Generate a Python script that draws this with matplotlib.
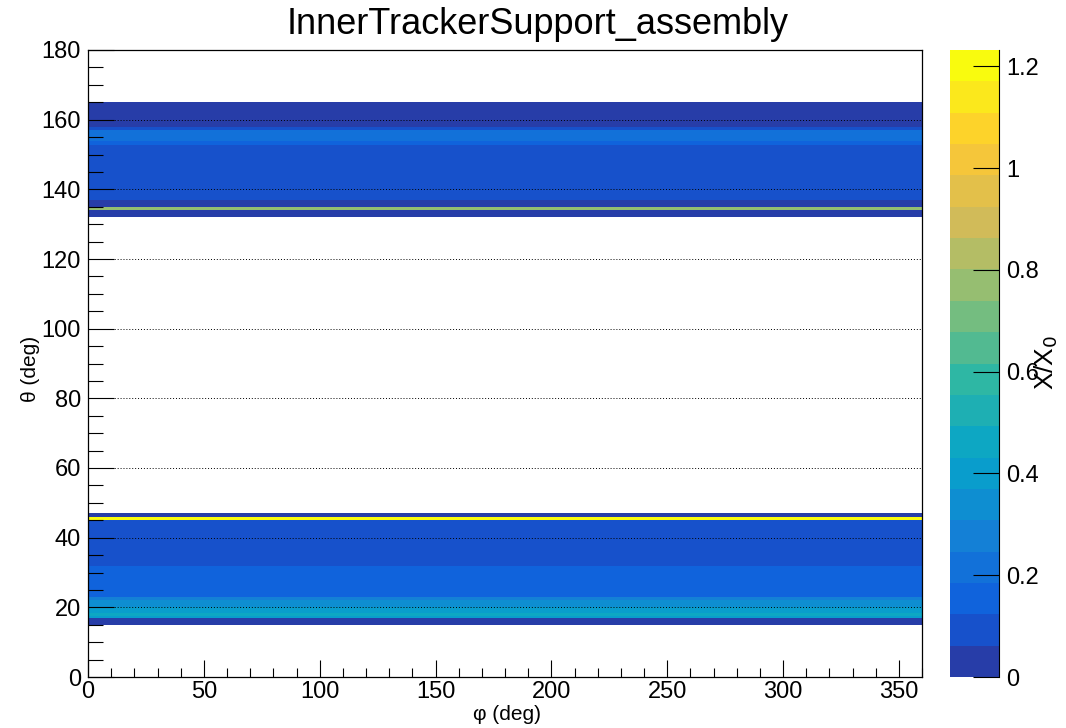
import numpy as np
import matplotlib
matplotlib.use("Agg")
import matplotlib.pyplot as plt
from matplotlib.colors import ListedColormap, BoundaryNorm, LinearSegmentedColormap
from matplotlib.ticker import MultipleLocator

plt.rcParams['font.family'] = ['Liberation Sans', 'DejaVu Sans']

# ---- data ----
title = "InnerTrackerSupport_assembly"
phi_edges = [0.0, 360.0]
# theta bin edges (deg) and X/X0 value in each theta segment (NaN = empty)
theta_edges = [15.0, 17.0, 17.5, 18.5, 20.0, 22.0, 23.0, 32.0, 45.0, 46.0, 47.0,
               132.0, 134.0, 135.0, 137.0, 152.7, 154.0, 157.0, 158.0, 165.0]
xx0_values = [0.03, 0.42, 0.46, 0.40, 0.34, 0.28, 0.15, 0.09, 1.232, 0.03,
              np.nan,
              0.03, 0.77, 0.03, 0.09, 0.15, 0.21, 0.09, 0.03]
z_max = 1.232
n_contours = 20
x_ticks = [0, 50, 100, 150, 200, 250, 300, 350]
y_ticks = [0, 20, 40, 60, 80, 100, 120, 140, 160, 180]
z_ticks = [0, 0.2, 0.4, 0.6, 0.8, 1.0, 1.2]
z_tick_labels = ["0", "0.2", "0.4", "0.6", "0.8", "1", "1.2"]

# ---- ROOT kBird palette ----
stops = np.linspace(0, 1, 9)
red = [0.2082, 0.0592, 0.0780, 0.0232, 0.1802, 0.5301, 0.8186, 0.9956, 0.9764]
green = [0.1664, 0.3599, 0.5041, 0.6419, 0.7178, 0.7492, 0.7328, 0.7862, 0.9832]
blue = [0.5293, 0.8684, 0.8385, 0.7914, 0.6425, 0.4662, 0.3499, 0.1968, 0.0539]
bird = LinearSegmentedColormap.from_list(
    "bird", list(zip(stops, zip(red, green, blue))), N=255)
cols = [bird(int((i + 0.99) * 255 / n_contours) / 254.0) for i in range(n_contours)]
cmap = ListedColormap(cols)
cmap.set_bad((1, 1, 1, 0))
levels = np.linspace(0, z_max, n_contours + 1)
norm = BoundaryNorm(levels, n_contours)

W, H = 1066, 728
fig = plt.figure(figsize=(W / 100, H / 100), dpi=100)
ax = fig.add_axes([88 / W, (H - 677) / H, (922 - 88) / W, (677 - 50) / H])
cax = fig.add_axes([950 / W, (H - 677) / H, (999 - 950) / W, (677 - 50) / H])

Z = np.ma.masked_invalid(np.array(xx0_values, dtype=float).reshape(-1, 1))
mesh = ax.pcolormesh(np.array(phi_edges), np.array(theta_edges), Z,
                     cmap=cmap, norm=norm, shading="flat")

ax.set_xlim(0, 360)
ax.set_ylim(0, 180)
ax.set_xticks(x_ticks)
ax.set_yticks(y_ticks)
ax.xaxis.set_minor_locator(MultipleLocator(10))
ax.yaxis.set_minor_locator(MultipleLocator(5))
ax.tick_params(axis="x", which="major", direction="in", length=12.2, width=0.8,
               labelsize=17, pad=3)
ax.tick_params(axis="x", which="minor", direction="in", length=6.5, width=0.8)
ax.tick_params(axis="y", which="major", direction="in", length=19, width=0.8,
               labelsize=17, pad=5)
ax.tick_params(axis="y", which="minor", direction="in", length=10.5, width=0.8)
ax.grid(axis="y", which="major", linestyle=(0, (1, 2)), color="black", linewidth=0.7)
ax.set_axisbelow(False)
for s in ax.spines.values():
    s.set_linewidth(0.9)

fig.text(507 / W, 1 - 714 / H, "φ (deg)", ha="center", va="center", fontsize=15)
fig.text(30 / W, 1 - 369 / H, "θ (deg)", ha="center", va="center", fontsize=15,
         rotation=90)
fig.text(538 / W, 1 - 24 / H, title, ha="center", va="center", fontsize=26)

cb = fig.colorbar(mesh, cax=cax, ticks=z_ticks, boundaries=levels)
cb.outline.set_visible(False)
cax.spines["right"].set_visible(True)
cax.set_yticks(z_ticks)
cax.set_yticklabels(z_tick_labels)
cax.yaxis.set_ticks_position("right")
cax.tick_params(axis="y", direction="in", length=19, width=0.8, labelsize=17, pad=5)
cax.minorticks_off()
fig.text(1046 / W, 1 - 362 / H, "X/X$_0$", ha="center", va="center", fontsize=19,
         rotation=90)

fig.savefig("out.png", dpi=100)
